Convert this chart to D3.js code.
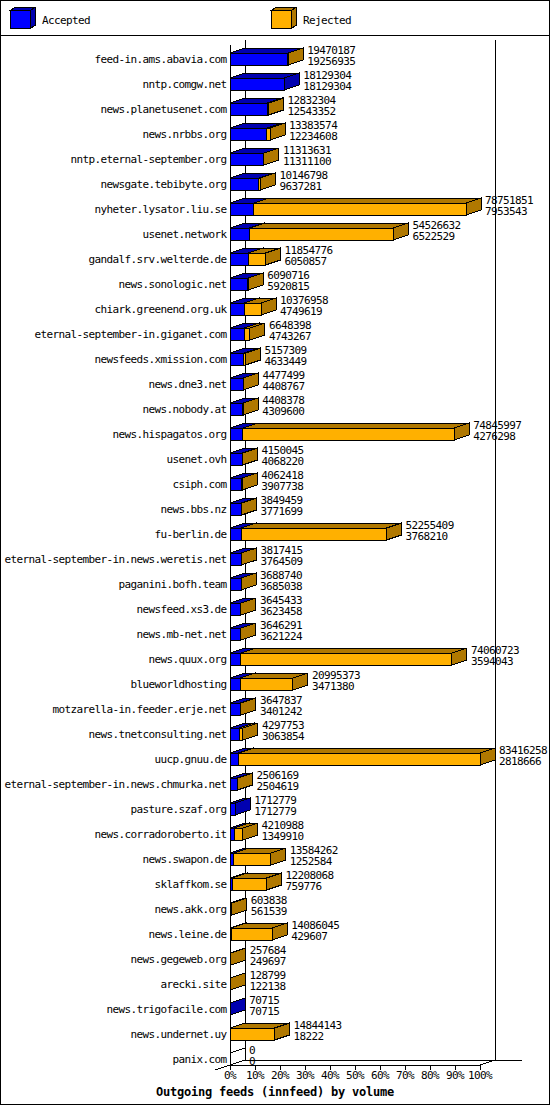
<!DOCTYPE html>
<html><head><meta charset="utf-8">
<script src="https://cdn.jsdelivr.net/npm/d3@7/dist/d3.min.js"></script>
<style>
html,body{margin:0;padding:0;background:#fff;}
svg{display:block;}
text{font-family:"DejaVu Sans Mono",monospace;font-size:11px;letter-spacing:-0.62px;fill:#000;}
</style></head>
<body>
<script>
// ---- data ----
const hosts = ["feed-in.ams.abavia.com","nntp.comgw.net","news.planetusenet.com","news.nrbbs.org","nntp.eternal-september.org","newsgate.tebibyte.org","nyheter.lysator.liu.se","usenet.network","gandalf.srv.welterde.de","news.sonologic.net","chiark.greenend.org.uk","eternal-september-in.giganet.com","newsfeeds.xmission.com","news.dne3.net","news.nobody.at","news.hispagatos.org","usenet.ovh","csiph.com","news.bbs.nz","fu-berlin.de","eternal-september-in.news.weretis.net","paganini.bofh.team","newsfeed.xs3.de","news.mb-net.net","news.quux.org","blueworldhosting","motzarella-in.feeder.erje.net","news.tnetconsulting.net","uucp.gnuu.de","eternal-september-in.news.chmurka.net","pasture.szaf.org","news.corradoroberto.it","news.swapon.de","sklaffkom.se","news.akk.org","news.leine.de","news.gegeweb.org","arecki.site","news.trigofacile.com","news.undernet.uy","panix.com"];
const offered = [19470187,18129304,12832304,13383574,11313631,10146798,78751851,54526632,11854776,6090716,10376958,6648398,5157309,4477499,4408378,74845997,4150045,4062418,3849459,52255409,3817415,3688740,3645433,3646291,74060723,20995373,3647837,4297753,83416258,2506169,1712779,4210988,13584262,12208068,603838,14086045,257684,128799,70715,14844143,0];
const accepted = [19256935,18129304,12543352,12234608,11311100,9637281,7953543,6522529,6050857,5920815,4749619,4743267,4633449,4408767,4309600,4276298,4068220,3907738,3771699,3768210,3764509,3685038,3623458,3621224,3594043,3471380,3401242,3063854,2818666,2504619,1712779,1349910,1252584,759776,561539,429607,249697,122138,70715,18222,0];
const seriesNames = ["Accepted","Rejected"];
const tickPercents = [0,10,20,30,40,50,60,70,80,90,100];
const chartTitle = "Outgoing feeds (innfeed) by volume";

// ---- layout ----
const W = 550, H = 1105;
const X0 = 230, PW = 250, DX = 15, DY = 5;
const colors = {front:["#0000ff","#ffb000"], dark:["#0000b0","#b07800"]};

const maxV = d3.max(offered);
const xv = d3.scaleLinear().domain([0, maxV]).range([X0, X0 + PW]);
const xp = d3.scaleLinear().domain([0, 100]).range([X0, X0 + PW]);
const y = d3.scalePoint().domain(hosts).range([59, 1059]);

const svg = d3.select("body").append("svg").attr("width", W).attr("height", H);
const g = svg.append("g").attr("shape-rendering", "crispEdges");

// frame
g.append("rect").attr("x",0.5).attr("y",0.5).attr("width",W-1).attr("height",H-1)
  .attr("fill","#fff").attr("stroke","#000");
g.append("line").attr("x1",0).attr("x2",W).attr("y1",35.5).attr("y2",35.5).attr("stroke","#000");

// legend
function cube(gx, x, yTop, w, h, d, dd, i) {
  const pts = (a) => a.map(p => p.join(",")).join(" ");
  gx.append("polygon").attr("points", pts([[x,yTop],[x+w,yTop],[x+w+d,yTop-dd],[x+d,yTop-dd]]))
    .attr("fill", colors.dark[i]).attr("stroke","#000");
  gx.append("polygon").attr("points", pts([[x+w,yTop],[x+w+d,yTop-dd],[x+w+d,yTop+h-dd],[x+w,yTop+h]]))
    .attr("fill", colors.dark[i]).attr("stroke","#000");
  gx.append("rect").attr("x",x).attr("y",yTop).attr("width",w).attr("height",h)
    .attr("fill", colors.front[i]).attr("stroke","#000");
}
const legX = [10, 271];
seriesNames.forEach((n, i) => {
  cube(g, legX[i], 10.5, 20, 18, 5, 3, i);
  svg.append("text").attr("x", legX[i] + 32).attr("y", 24).text(n);
});

// back wall & floor
const line = (x1,y1,x2,y2) => g.append("line").attr("x1",x1).attr("y1",y1).attr("x2",x2).attr("y2",y2).attr("stroke","#000");
const yFloor = y(hosts[hosts.length-1]) + 6;
line(X0 + DX, 40, X0 + DX, yFloor - DY);
line(X0 + PW + DX, 40, X0 + PW + DX, yFloor - DY);
line(X0 + DX, yFloor - DY, 522, yFloor - DY);
line(X0, 45, X0, yFloor);
line(X0, yFloor, X0 + PW, yFloor);
line(X0 - DX, yFloor + DY, X0 + DX, yFloor - DY);
line(X0 + PW, yFloor, X0 + PW + DX, yFloor - DY);
tickPercents.forEach(t => {
  line(xp(t), yFloor, xp(t), yFloor + 5);
  svg.append("text").attr("x", xp(t)).attr("y", yFloor + 14).attr("text-anchor","middle").text(t + "%");
});

// bars
function box(xa, xb, top, bot, i, fillSide) {
  const pts = (a) => a.map(p => p.join(",")).join(" ");
  g.append("rect").attr("x", xa).attr("y", top).attr("width", Math.max(0, xb - xa)).attr("height", bot - top)
    .attr("fill", colors.front[i]).attr("stroke", "#000");
  g.append("polygon").attr("points", pts([[xa,top],[xb,top],[xb+DX,top-DY],[xa+DX,top-DY]]))
    .attr("fill", colors.dark[i]).attr("stroke", "#000");
  g.append("polygon").attr("points", pts([[xb,top],[xb+DX,top-DY],[xb+DX,bot-DY],[xb,bot]]))
    .attr("fill", fillSide ? colors.dark[i] : "none").attr("stroke", "#000");
}
hosts.forEach((h, k) => {
  const cy = y(h), top = cy - 6, bot = cy + 6;
  const tot = offered[k], acc = accepted[k];
  if (tot === 0) {
    box(xv(0), xv(0), top, bot, 0, false);
  } else {
    box(xv(0), xv(acc), top, bot, 0, true);
    if (tot > acc) box(xv(acc), xv(tot), top, bot, 1, true);
  }
  svg.append("text").attr("x", 226.6).attr("y", cy + 4.3).attr("text-anchor","end").text(h);
  const tx = xv(tot) + DX + 4;
  svg.append("text").attr("x", tx).attr("y", cy - 5.5).text(tot);
  svg.append("text").attr("x", tx).attr("y", cy + 5.6).text(acc);
});

svg.append("text").attr("x", W/2).attr("y", 1096).attr("text-anchor","middle")
  .style("font-weight","bold").style("font-size","12px").style("letter-spacing","-0.22px").text(chartTitle);
</script>
</body></html>
